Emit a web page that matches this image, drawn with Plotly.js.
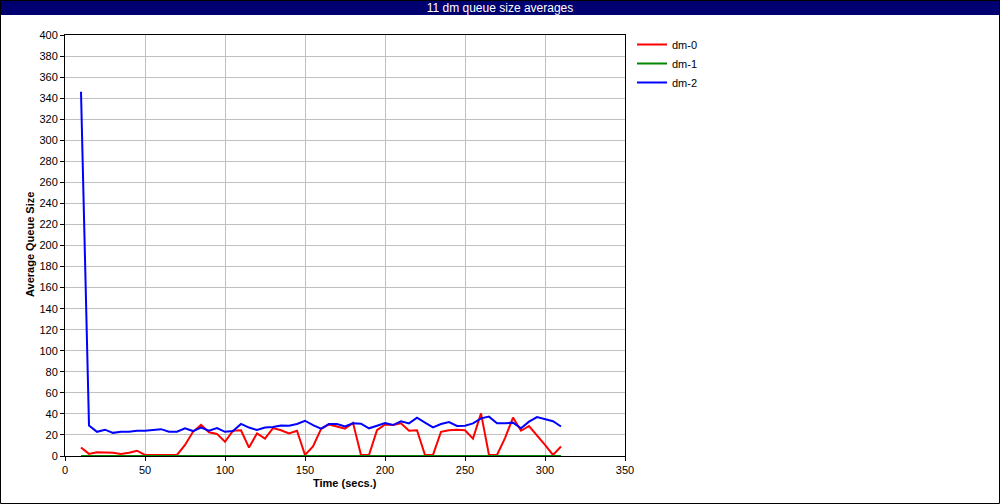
<!DOCTYPE html>
<html>
<head>
<meta charset="utf-8">
<script src="https://cdn.plot.ly/plotly-3.0.1.min.js"></script>
<style>
html,body{margin:0;padding:0;background:#fff;}
#chart{width:1000px;height:504px;}
</style>
</head>
<body>
<div id="chart"></div>
<script>
// Time stamps (secs.)
var times = [10,15,20,25,30,35,40,45,50,55,60,65,70,75,80,85,90,95,100,105,110,115,120,125,130,135,140,145,150,155,160,165,170,175,180,185,190,195,200,205,210,215,220,225,230,235,240,245,250,255,260,265,270,275,280,285,290,295,300,305,310];

var dm0 = [8,2,3.5,3.4,3,2,3,5,1,1,1,1,1,10.5,23,29.5,22.5,21,13.5,24,24.5,8,21.5,16.5,26.5,24.5,21.5,24,1,9,25.5,30,28,26,31.5,1,1,24.5,30,29.5,31,24,24.5,1,1,23,24.5,25,24.5,16.5,40.5,1,1,17,36.5,24,28.5,20,10.5,1,9];

var dm1 = [0,0,0,0,0,0,0,0,0,0,0,0,0,0,0,0,0,0,0,0,0,0,0,0,0,0,0,0,0,0,0,0,0,0,0,0,0,0,0,0,0,0,0,0,0,0,0,0,0,0,0,0,0,0,0,0,0,0,0,0,0];

var dm2 = [346,29,23,25,22,23,23,24,24,24.5,25.5,23,23,26.3,23.7,27,24,26.5,23,23.7,30.5,27,24.7,27,27.5,29,28.8,30.4,33.5,29.4,26,30.4,30.4,28,31,30.7,26.3,28.8,31.3,29.4,33,31,36.4,31.7,27.2,30.4,32.3,28.5,28.8,31,35.8,37.4,31,31,31.7,26.3,32.6,37,35,33,28];

var seriesNames = ["dm-0","dm-1","dm-2"];
var seriesColors = ["#ff0000","#008800","#0000ff"];
var seriesData = [dm0, dm1, dm2];

var titleText = "11 dm queue size averages";
var xTitle = "Time (secs.)";
var yTitle = "Average Queue Size";

var traces = seriesData.map(function(d, i){
  return {
    x: times, y: d, type: "scatter", mode: "lines", name: seriesNames[i],
    line: {color: seriesColors[i], width: 2}, cliponaxis: false
  };
});

// plot area in pixels: x 65..625, y 35..456
var L = 65, R = 625, T = 35, B = 456;
var W = R - L, H = B - T;
function px(x){ return (x - L) / W; }
function py(y){ return (B - y) / H; }

var font = "Liberation Sans, Arial, sans-serif";

var layout = {
  width: 1000, height: 504,
  margin: {l: L, r: 1000 - R, t: T, b: 504 - B, pad: 0},
  paper_bgcolor: "#ffffff", plot_bgcolor: "#ffffff",
  font: {family: font, size: 11, color: "#000"},
  showlegend: true,
  title: {text: titleText, font: {family: font, size: 12, color: "#ffffff"},
          x: 0.5, xref: "container", xanchor: "center", y: 1 - 7.5/504, yref: "container", yanchor: "middle"},
  xaxis: {
    range: [0, 350], dtick: 50, tick0: 0, showgrid: true, gridcolor: "#c0c0c0", gridwidth: 1,
    zeroline: false, showline: true, linecolor: "#000", linewidth: 1, mirror: true,
    ticks: "outside", ticklen: 4, tickcolor: "#000", tickfont: {size: 11},
    automargin: false, fixedrange: true, layer: "below traces"
  },
  yaxis: {
    range: [0, 400], dtick: 20, tick0: 0, showgrid: true, gridcolor: "#c0c0c0", gridwidth: 1,
    zeroline: false, showline: true, linecolor: "#000", linewidth: 1, mirror: true,
    ticks: "outside", ticklen: 4, tickcolor: "#000", tickfont: {size: 11},
    automargin: false, fixedrange: true, layer: "below traces"
  },
  legend: {
    x: px(632), y: py(30), xanchor: "left", yanchor: "top",
    font: {size: 11}, bgcolor: "rgba(0,0,0,0)", borderwidth: 0,
    itemwidth: 30, tracegroupgap: 0
  },
  annotations: [
    {text: "<b>" + xTitle + "</b>", xref: "paper", yref: "paper", x: px(345), y: py(483),
     xanchor: "center", yanchor: "middle", showarrow: false, font: {size: 11}},
    {text: "<b>" + yTitle + "</b>", xref: "paper", yref: "paper", x: px(30), y: py(245),
     xanchor: "center", yanchor: "middle", showarrow: false, textangle: -90, font: {size: 11}}
  ],
  shapes: [
    {type: "rect", xref: "paper", yref: "paper", layer: "below",
     x0: px(0), x1: px(1000), y0: py(15), y1: py(0),
     fillcolor: "#000070", line: {width: 0}},
    {type: "rect", xref: "paper", yref: "paper", layer: "above",
     x0: px(0.5), x1: px(999.5), y0: py(503.5), y1: py(0.5),
     fillcolor: "rgba(0,0,0,0)", line: {color: "#000", width: 1}}
  ]
};

Plotly.newPlot("chart", traces, layout, {displayModeBar: false, staticPlot: true});
</script>
</body>
</html>
